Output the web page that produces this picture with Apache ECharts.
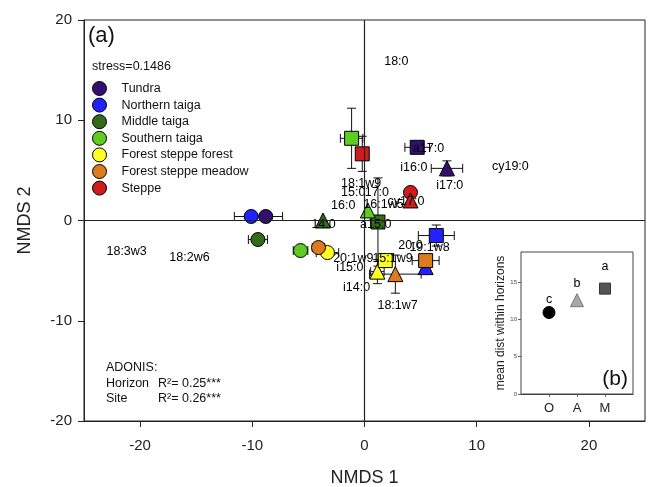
<!DOCTYPE html>
<html>
<head>
<meta charset="utf-8">
<script src="https://cdn.jsdelivr.net/npm/echarts@6/dist/echarts.min.js"></script>
<style>
  html, body { margin: 0; padding: 0; background: #fff; }
  #chart { width: 652px; height: 487px; }
</style>
</head>
<body>
<div id="chart"></div>
<script>
// site groups (legend)
var groups = ['Tundra', 'Northern taiga', 'Middle taiga', 'Southern taiga', 'Forest steppe forest', 'Forest steppe meadow', 'Steppe'];
var groupColors = ['#33106e', '#2222ff', '#336a1c', '#5fcc22', '#ffff22', '#dc7a1e', '#cc1c1c'];

// O horizon - circles
var oX = [-8.8, -10.1, -9.5, -5.7, -3.3, -4.1, 4.1];
var oY = [0.4, 0.4, -1.9, -3.0, -3.2, -2.7, 2.8];
var oXErr = [1.5, 1.5, 0.85, 0.65, 1.0, 0.55, 0];
var oYErr = [0, 0, 0, 0, 0, 0, 0];

// A horizon - triangles
var aX = [7.35, 5.45, -3.7, 0.3, 1.15, 2.75, 4.1];
var aY = [5.2, -4.65, 0.0, 1.0, -5.1, -5.35, 2.0];
var aXErr = [1.4, 0, 0, 0, 0.6, 2.3, 0];
var aYErr = [0.75, 0, 0, 0, 1.2, 1.9, 0];

// M horizon - squares
var mX = [4.7, 6.4, 1.2, -1.15, 1.85, 5.45, -0.2];
var mY = [7.3, -1.5, -0.15, 8.2, -4.0, -4.0, 6.65];
var mXErr = [1.1, 1.6, 0, 1.0, 0.5, 1.2, 0];
var mYErr = [0, 1.05, 4.4, 3.0, 0, 0, 1.75];

// fatty acid loadings (text in the ordination)
var loadNames = ['18:0', 'a17:0', 'i16:0', 'i17:0', 'cy19:0', '18:1w9', '15:0', '17:0', '16:0', '16:1w5', 'cy17:0',
  '14:0', 'a15:0', '20:0', '19:1w8', '20:1w9', '15:1w9', 'i15:0', 'i14:0', '18:1w7', '18:3w3', '18:2w6'];
var loadX = [2.84, 5.7, 4.4, 7.6, 13.0, -0.3, -1.0, 1.1, -1.9, 1.7, 3.7,
  -3.65, 1.0, 4.1, 5.8, -1.0, 2.5, -1.3, -0.7, 2.95, -21.2, -15.6];
var loadY = [15.85, 7.2, 5.3, 3.5, 5.4, 3.7, 2.8, 2.8, 1.5, 1.6, 1.9,
  -0.4, -0.4, -2.5, -2.7, -3.8, -3.8, -4.7, -6.7, -8.5, -3.05, -3.65];

// inset (b): mean distance within horizons
var insetCats = ['O', 'A', 'M'];
var insetX = [1, 2, 3];
var insetY = [10.9, 12.55, 14.1];
var insetLetters = ['c', 'b', 'a'];
var insetLetterY = [12.6, 14.8, 17.0];

var xTicks = [-20, -10, 0, 10, 20];

var FONT = 'Liberation Sans, Arial, sans-serif';
var myChart = echarts.init(document.getElementById('chart'));

// error bar rows [x, y, xerr, yerr]
var errRows = [];
for (var i = 0; i < groups.length; i++) {
  errRows.push([oX[i], oY[i], oXErr[i], oYErr[i]]);
  errRows.push([aX[i], aY[i], aXErr[i], aYErr[i]]);
  errRows.push([mX[i], mY[i], mXErr[i], mYErr[i]]);
}

function renderErr(params, api) {
  var x = api.value(0), y = api.value(1), xe = api.value(2), ye = api.value(3);
  var c = api.coord([x, y]);
  var cap = 4.5;
  var kids = [];
  function seg(x1, y1, x2, y2) {
    kids.push({ type: 'line', shape: { x1: x1, y1: y1, x2: x2, y2: y2 }, style: { stroke: '#111', lineWidth: 1 } });
  }
  if (xe > 0) {
    var l = api.coord([x - xe, y]), r = api.coord([x + xe, y]);
    seg(l[0], c[1], r[0], c[1]);
    seg(l[0], c[1] - cap, l[0], c[1] + cap);
    seg(r[0], c[1] - cap, r[0], c[1] + cap);
  }
  if (ye > 0) {
    var t = api.coord([x, y + ye]), b = api.coord([x, y - ye]);
    seg(c[0], t[1], c[0], b[1]);
    seg(c[0] - cap, t[1], c[0] + cap, t[1]);
    seg(c[0] - cap, b[1], c[0] + cap, b[1]);
  }
  return { type: 'group', children: kids };
}

var series = [];
// error bars + zero lines
series.push({
  type: 'custom',
  xAxisIndex: 0, yAxisIndex: 0,
  renderItem: renderErr,
  data: errRows,
  z: 2,
  silent: true,
  markLine: {
    silent: true,
    symbol: 'none',
    label: { show: false },
    lineStyle: { color: '#222', type: 'solid', width: 1.2 },
    data: [{ xAxis: 0 }, { yAxis: 0 }]
  }
});

// one scatter series per site group, three horizons as shapes
for (var g = 0; g < groups.length; g++) {
  series.push({
    name: groups[g],
    type: 'scatter',
    xAxisIndex: 0, yAxisIndex: 0,
    z: 3,
    itemStyle: { color: groupColors[g], borderColor: '#000', borderWidth: 1, opacity: 1 },
    data: [
      { value: [oX[g], oY[g]], symbol: 'circle', symbolSize: 14 },
      { value: [aX[g], aY[g]], symbol: 'triangle', symbolSize: 15 },
      { value: [mX[g], mY[g]], symbol: 'rect', symbolSize: 14 }
    ]
  });
}

// loading labels
series.push({
  type: 'scatter',
  xAxisIndex: 0, yAxisIndex: 0,
  z: 4,
  silent: true,
  symbolSize: 1,
  itemStyle: { color: 'rgba(0,0,0,0)', opacity: 1 },
  label: {
    show: true, position: 'inside', formatter: '{b}',
    color: '#000', opacity: 1, fontSize: 12.5, fontFamily: FONT
  },
  data: loadNames.map(function (n, k) { return { name: n, value: [loadX[k], loadY[k]] }; })
});

// inset markers
var insetSymbols = ['circle', 'triangle', 'rect'];
var insetColors = ['#000000', '#a8a8a8', '#555555'];
var insetBorders = ['#000000', '#777777', '#333333'];
var insetSizes = [12, 13, 11];
series.push({
  type: 'scatter',
  xAxisIndex: 1, yAxisIndex: 1,
  z: 5,
  data: insetX.map(function (x, k) {
    return {
      value: [x, insetY[k]],
      symbol: insetSymbols[k],
      symbolSize: insetSizes[k],
      itemStyle: { color: insetColors[k], borderColor: insetBorders[k], borderWidth: 1, opacity: 1 }
    };
  })
});
series.push({
  type: 'scatter',
  xAxisIndex: 1, yAxisIndex: 1,
  z: 5,
  symbolSize: 1,
  itemStyle: { color: 'rgba(0,0,0,0)', opacity: 1 },
  label: { show: true, position: 'inside', formatter: '{b}', color: '#000', opacity: 1, fontSize: 12.5, fontFamily: FONT },
  data: insetX.map(function (x, k) { return { name: insetLetters[k], value: [x, insetLetterY[k]] }; })
});

var option = {
  backgroundColor: '#fff',
  animation: false,
  textStyle: { fontFamily: FONT },
  grid: [
    { left: 84, top: 20, width: 561, height: 401, outerBoundsMode: 'none', containLabel: false,
      show: true, borderColor: '#222', borderWidth: 1, backgroundColor: 'transparent' },
    { left: 521, top: 252, width: 112, height: 142, outerBoundsMode: 'none', containLabel: false,
      show: true, borderColor: '#444', borderWidth: 1, backgroundColor: '#fff', z: 4 }
  ],
  legend: {
    data: groups,
    orient: 'vertical',
    left: 87, top: 76,
    itemWidth: 14, itemHeight: 14, itemGap: 1.6,
    icon: 'circle',
    selectedMode: false,
    itemStyle: { borderColor: '#000', borderWidth: 1 },
    textStyle: { fontSize: 12.5, color: '#111', fontFamily: FONT, padding: [0, 0, 0, 10], lineHeight: 14 }
  },
  xAxis: [{
    type: 'value', gridIndex: 0, min: -25, max: 25,
    name: 'NMDS 1', nameLocation: 'middle', nameGap: 48,
    nameTextStyle: { fontSize: 18, color: '#222', fontFamily: FONT },
    axisLine: { show: true, onZero: false, lineStyle: { color: '#222', width: 1 } },
    axisTick: { show: true, length: 6, lineStyle: { color: '#222' }, customValues: xTicks },
    axisLabel: { fontSize: 15, color: '#222', margin: 17, customValues: xTicks },
    splitLine: { show: false }
  }, {
    type: 'value', gridIndex: 1, min: 0, max: 4,
    axisLine: { show: true, onZero: false, lineStyle: { color: '#444' } },
    axisTick: { show: true, length: 3, lineStyle: { color: '#666' }, customValues: insetX },
    axisLabel: {
      fontSize: 13, color: '#222', margin: 8, customValues: insetX,
      formatter: function (v) { return insetCats[insetX.indexOf(v)] || ''; }
    },
    splitLine: { show: false }
  }],
  yAxis: [{
    type: 'value', gridIndex: 0, min: -20, max: 20, interval: 10,
    name: 'NMDS 2', nameLocation: 'middle', nameGap: 50, nameRotate: 90,
    nameTextStyle: { fontSize: 18, color: '#222', fontFamily: FONT },
    axisLine: { show: true, onZero: false, lineStyle: { color: '#222', width: 1 } },
    axisTick: { show: true, length: 6, lineStyle: { color: '#222' } },
    axisLabel: { fontSize: 15, color: '#222', margin: 12 },
    splitLine: { show: false }
  }, {
    type: 'value', gridIndex: 1, min: 0, max: 19, interval: 5,
    name: 'mean dist within horizons', nameLocation: 'middle', nameGap: 13, nameRotate: 90,
    nameTextStyle: { fontSize: 12, color: '#222', fontFamily: FONT },
    axisLine: { show: true, onZero: false, lineStyle: { color: '#444' } },
    axisTick: { show: true, length: 3, lineStyle: { color: '#666' } },
    axisLabel: { fontSize: 6, color: '#444', margin: 4, showMaxLabel: false },
    splitLine: { show: false }
  }],
  graphic: [
    { type: 'text', left: 88, top: 25, z: 10, style: { text: '(a)', fontSize: 22, fill: '#111', fontFamily: FONT } },
    { type: 'text', left: 92, top: 60, z: 10, style: { text: 'stress=0.1486', fontSize: 12.5, fill: '#111', fontFamily: FONT } },
    { type: 'text', left: 106, top: 361, z: 10, style: { text: 'ADONIS:', fontSize: 12.5, fill: '#111', fontFamily: FONT } },
    { type: 'text', left: 106, top: 377, z: 10, style: { text: 'Horizon', fontSize: 12.5, fill: '#111', fontFamily: FONT } },
    { type: 'text', left: 106, top: 392, z: 10, style: { text: 'Site', fontSize: 12.5, fill: '#111', fontFamily: FONT } },
    { type: 'text', left: 158, top: 377, z: 10, style: { text: 'R²= 0.25***', fontSize: 12.5, fill: '#111', fontFamily: FONT } },
    { type: 'text', left: 158, top: 392, z: 10, style: { text: 'R²= 0.26***', fontSize: 12.5, fill: '#111', fontFamily: FONT } },
    { type: 'text', right: 24, top: 369, z: 10, style: { text: '(b)', fontSize: 21, fill: '#111', fontFamily: FONT } }
  ],
  series: series
};

myChart.setOption(option);
</script>
</body>
</html>
